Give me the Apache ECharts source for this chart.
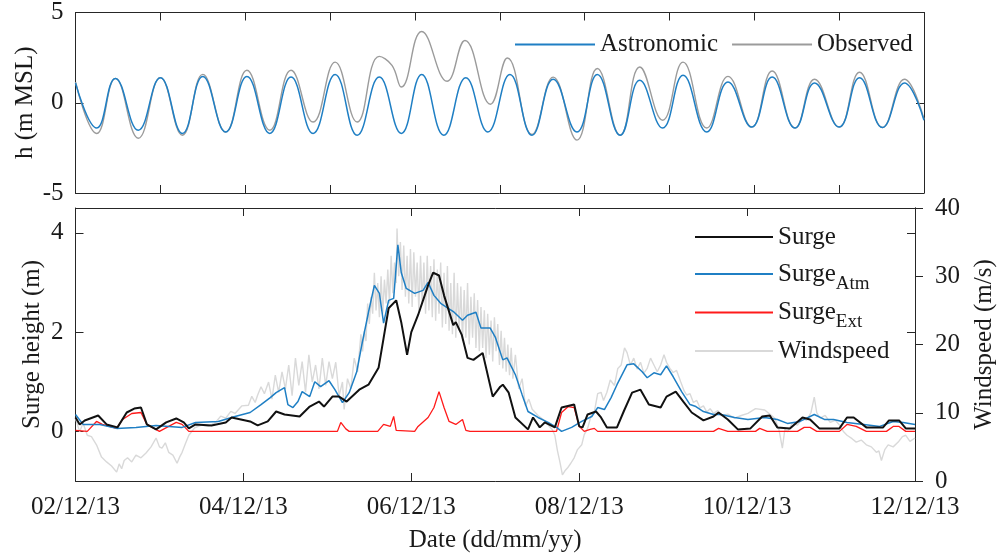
<!DOCTYPE html>
<html><head><meta charset="utf-8">
<script src="https://cdn.jsdelivr.net/npm/echarts@6/dist/echarts.min.js"></script>
<style>html,body{margin:0;padding:0;background:#fff}#c{width:1005px;height:555px}</style>
</head><body><div id="c"></div>
<script>
// ---- data (time in days since 02/12/13 00:00) ----
const dateLabels = ['02/12/13','04/12/13','06/12/13','08/12/13','10/12/13','12/12/13'];

const astroT = [0,0.25,0.47,0.74,1.00,1.26,1.50,1.77,2.02,2.29,2.54,2.80,3.06,3.32,3.58,3.84,4.08,4.34,4.60,4.86,5.12,5.38,5.63,5.91,6.15,6.42,6.65,6.92,7.16,7.44,7.69,7.97,8.21,8.48,8.71,9.00,9.24,9.51,9.77,10.0];
const astroH = [1.1,-1.4,1.35,-1.52,1.39,-1.7,1.46,-1.62,1.46,-1.7,1.42,-1.7,1.57,-1.8,1.42,-1.7,1.57,-1.8,1.39,-1.62,1.57,-1.8,1.3,-1.62,1.57,-1.8,1.24,-1.4,1.52,-1.62,1.15,-1.35,1.42,-1.4,1.1,-1.35,1.39,-1.37,1.1,-0.97];

const obsT = [0,0.25,0.47,0.74,1.00,1.26,1.50,1.77,2.02,2.29,2.54,2.80,3.06,3.32,3.58,3.73,3.84,4.08,4.38,4.59,4.89,5.09,5.38,5.63,5.91,6.15,6.42,6.65,6.92,7.16,7.44,7.69,7.97,8.21,8.48,8.71,9.00,9.24,9.51,9.77,10.0];
const obsH = [1.15,-1.7,1.35,-1.97,1.39,-1.8,1.57,-1.62,1.8,-1.52,1.8,-1.07,2.25,-1.07,2.57,2.07,0.87,3.95,1.19,3.45,-0.08,2.48,-1.75,1.42,-2.07,1.9,-1.8,1.98,-0.97,2.25,-1.4,1.46,-1.35,1.76,-1.4,1.3,-1.35,1.69,-1.37,1.3,-0.9];

const surge = [[0,0.28],[0.05,0.14],[0.11,0.22],[0.27,0.32],[0.37,0.14],[0.50,0.08],[0.61,0.38],[0.70,0.46],[0.78,0.48],[0.85,0.14],[0.96,0.04],[1.08,0.18],[1.20,0.26],[1.29,0.18],[1.35,0.06],[1.43,0.14],[1.62,0.12],[1.79,0.18],[1.86,0.28],[1.97,0.24],[2.08,0.2],[2.17,0.12],[2.29,0.2],[2.39,0.4],[2.49,0.34],[2.67,0.3],[2.79,0.5],[2.90,0.6],[2.96,0.5],[3.06,0.7],[3.14,0.7],[3.23,0.6],[3.38,0.84],[3.49,0.94],[3.61,1.28],[3.67,1.88],[3.73,2.48],[3.82,2.64],[3.88,2.2],[3.95,1.54],[4.00,2.0],[4.08,2.34],[4.20,2.94],[4.26,3.2],[4.33,3.14],[4.39,2.74],[4.50,2.14],[4.53,2.2],[4.60,1.95],[4.67,1.48],[4.74,1.44],[4.85,1.58],[4.97,0.70],[5.06,0.9],[5.09,0.94],[5.16,0.78],[5.24,0.28],[5.39,0.04],[5.45,0.28],[5.53,0.08],[5.59,0.18],[5.71,0.08],[5.79,0.48],[5.94,0.54],[6.00,0.1],[6.04,0.08],[6.10,0.34],[6.20,0.4],[6.26,0.28],[6.33,0.08],[6.45,0.08],[6.53,0.4],[6.63,0.78],[6.73,0.84],[6.83,0.54],[6.97,0.48],[7.04,0.7],[7.15,0.8],[7.24,0.6],[7.34,0.38],[7.48,0.22],[7.60,0.3],[7.66,0.38],[7.77,0.24],[7.89,0.04],[8.04,0.06],[8.18,0.3],[8.27,0.32],[8.36,0.08],[8.51,0.06],[8.66,0.28],[8.75,0.24],[8.86,0.06],[9.10,0.06],[9.19,0.28],[9.27,0.28],[9.42,0.08],[9.62,0.08],[9.69,0.22],[9.81,0.22],[9.89,0.06],[10.0,0.06]];

const surgeAtm = [[0,0.34],[0.09,0.14],[0.29,0.14],[0.49,0.06],[0.72,0.08],[0.96,0.12],[1.27,0.08],[1.43,0.18],[1.70,0.2],[1.90,0.3],[2.08,0.38],[2.21,0.54],[2.32,0.68],[2.39,0.78],[2.49,0.88],[2.53,0.54],[2.59,0.48],[2.65,0.6],[2.70,0.8],[2.79,0.7],[2.85,1.0],[2.92,0.9],[3.02,1.02],[3.09,0.84],[3.18,0.58],[3.26,0.78],[3.35,1.2],[3.41,1.74],[3.49,2.4],[3.56,2.94],[3.62,2.78],[3.67,2.18],[3.73,2.64],[3.79,2.68],[3.84,3.76],[3.88,3.2],[3.94,2.88],[4.04,2.78],[4.14,2.84],[4.20,3.0],[4.27,2.74],[4.35,2.58],[4.44,2.48],[4.51,2.4],[4.61,2.24],[4.67,2.34],[4.77,2.4],[4.83,2.08],[4.94,2.08],[5.00,1.9],[5.09,1.44],[5.14,1.48],[5.24,1.14],[5.32,0.74],[5.39,0.4],[5.51,0.28],[5.63,0.18],[5.73,0.08],[5.79,0.0],[5.91,0.08],[6.03,0.2],[6.15,0.3],[6.22,0.48],[6.30,0.44],[6.38,0.68],[6.45,0.94],[6.57,1.34],[6.65,1.36],[6.75,1.2],[6.81,1.08],[6.89,1.18],[6.97,1.14],[7.04,1.32],[7.12,1.1],[7.22,0.8],[7.32,0.54],[7.39,0.5],[7.48,0.4],[7.60,0.34],[7.69,0.34],[7.85,0.28],[8.01,0.24],[8.21,0.28],[8.36,0.24],[8.48,0.16],[8.63,0.2],[8.80,0.34],[8.92,0.24],[9.03,0.24],[9.19,0.18],[9.39,0.14],[9.58,0.1],[9.74,0.2],[9.86,0.18],[10.0,0.14]];

const surgeExt = [[0,0.02],[0.14,0],[0.25,0.2],[0.32,0.14],[0.49,0.06],[0.56,0.24],[0.67,0.36],[0.78,0.38],[0.85,0.14],[1.00,0],[1.11,0.1],[1.20,0.18],[1.27,0.14],[1.35,0],[1.86,0],[1.88,0.03],[1.91,0],[2.78,0],[2.80,0.04],[2.82,0],[3.12,0],[3.16,0.18],[3.22,0.05],[3.26,0],[3.60,0],[3.67,0.14],[3.75,0.1],[3.79,0.3],[3.82,0.02],[4.04,0],[4.08,0.1],[4.20,0.28],[4.27,0.48],[4.33,0.8],[4.39,0.48],[4.45,0.2],[4.53,0.14],[4.61,0.24],[4.65,0.02],[4.70,0],[5.73,0],[5.79,0.38],[5.87,0.5],[5.94,0.48],[6.00,0.1],[6.06,0],[6.13,0.04],[6.18,0.06],[6.22,0],[7.60,0],[7.66,0.06],[7.77,0],[8.10,0],[8.15,0.06],[8.24,0],[8.60,0],[8.68,0.08],[8.75,0.08],[8.83,0],[9.10,0],[9.19,0.14],[9.30,0.1],[9.42,0],[9.66,0],[9.74,0.1],[9.81,0.1],[9.89,0],[10.0,0]];

const windspeed = [[0,9.2],[0.03,8],[0.05,7.2],[0.09,8.5],[0.14,6.7],[0.19,6.5],[0.25,5.3],[0.31,3.5],[0.37,2.8],[0.43,2.2],[0.49,1.3],[0.52,2.5],[0.55,1.8],[0.58,3.0],[0.62,3.4],[0.67,2.8],[0.72,3.8],[0.78,3.4],[0.84,4.1],[0.90,5.0],[0.96,6.3],[1.00,5.0],[1.03,4.8],[1.07,5.6],[1.11,4.2],[1.16,3.8],[1.21,2.6],[1.24,3.5],[1.27,4.2],[1.31,5.5],[1.35,6.7],[1.42,7.8],[1.50,8.2],[1.58,8.0],[1.67,8.6],[1.73,9.5],[1.79,9.2],[1.85,10.2],[1.90,9.9],[1.98,11],[2.06,11.1],[2.10,12.4],[2.14,11.5],[2.17,12.6],[2.21,13.8],[2.25,12.8],
[2.30,14.5],[2.34,12],[2.38,15.5],[2.42,13],[2.46,16],[2.50,13.5],[2.54,17],[2.58,12.5],[2.62,18],[2.66,14],[2.70,17.5],[2.74,13],[2.78,18.5],[2.82,14.5],[2.86,17],[2.90,13.5],[2.94,18],[2.98,14],[3.02,17.5],[3.06,15],[3.10,17.4],[3.14,12.5],[3.18,14.5],[3.20,10.5],[3.24,15],[3.28,13.5],[3.32,18],[3.36,16],
[3.40,21.5],[3.42,19],[3.44,22],[3.46,20.5],[3.48,26],[3.50,23],[3.52,27],[3.54,24.5],[3.56,30.5],[3.58,25],[3.60,29],[3.62,24],[3.64,30],[3.66,24.5],[3.68,29.5],[3.70,26],[3.72,31],[3.74,26],[3.76,33],[3.78,27.5],[3.80,32],[3.82,29],[3.83,37],[3.85,30],[3.87,35],[3.89,28],[3.91,34.5],[3.93,27],[3.95,33],[3.97,26],[3.99,34],[4.01,25.5],[4.03,33.5],[4.05,27],[4.07,32],[4.09,25],[4.11,33],[4.13,26],[4.15,32],[4.17,24.5],[4.19,33],[4.21,25],[4.23,31.5],[4.25,24],[4.27,32.5],[4.29,23.5],[4.31,31],[4.33,24.5],[4.35,32],[4.37,22.5],[4.39,30.5],[4.41,23],[4.43,31.5],[4.45,22],[4.47,29],[4.49,21.5],[4.51,30.5],[4.53,21],[4.55,29],[4.57,22],[4.59,28.5],[4.61,20.5],[4.63,28],[4.65,21],[4.67,29],[4.69,20],[4.71,27],[4.73,21],[4.75,27.5],[4.77,19.5],[4.79,26.5],[4.81,19],[4.83,25.5],[4.85,19.5],[4.87,25],[4.89,18],[4.91,24.5],[4.93,18.5],[4.95,23.5],[4.97,17.5],[4.99,24],[5.01,19],[5.03,23],[5.05,17],[5.07,22],[5.09,16.5],[5.11,21],[5.13,16],[5.15,20],[5.17,15.5],[5.19,19.5],[5.21,15],[5.24,18.5],[5.28,13.5],[5.32,15],[5.36,11],[5.40,12],
[5.44,10.5],[5.51,9.6],[5.57,9],[5.63,8.2],[5.68,7.5],[5.71,6.7],[5.74,4.5],[5.77,2.8],[5.80,0.9],[5.83,1.5],[5.86,1.9],[5.90,2.6],[5.94,3.4],[5.98,4.6],[6.03,5.3],[6.06,6.8],[6.10,7.7],[6.14,9.5],[6.18,10.1],[6.22,12.8],[6.26,13],[6.29,11.8],[6.33,13],[6.37,14.8],[6.42,14],[6.46,16.5],[6.50,17],[6.54,19.5],[6.57,18.8],[6.61,17],[6.65,18],[6.69,16.4],[6.73,17.4],[6.77,15.8],[6.81,16.5],[6.85,18],[6.89,17],[6.93,16],[6.97,17],[7.01,18.5],[7.04,17.4],[7.08,16.5],[7.12,15.9],[7.16,16.2],[7.21,14.5],[7.25,13.2],[7.28,12.6],[7.32,12.8],[7.36,11.5],[7.40,11.8],[7.44,10.7],[7.48,11],[7.52,10.1],[7.56,10.6],[7.60,9.9],[7.65,10.3],[7.69,9.6],[7.77,9.8],[7.85,9.2],[7.93,9.6],[8.01,9.9],[8.10,10.6],[8.21,10.4],[8.27,9.8],[8.33,9.2],[8.38,7.5],[8.42,4.8],[8.45,7.6],[8.48,7.2],[8.54,8.5],[8.60,8.2],[8.66,9.2],[8.71,8.9],[8.76,10],[8.80,12.3],[8.83,10],[8.87,9.2],[8.93,9.6],[8.99,8.6],[9.05,8.9],[9.10,8.2],[9.15,7.2],[9.19,6.7],[9.25,6.2],[9.30,5.7],[9.36,6],[9.42,5.3],[9.48,5.0],[9.54,4.2],[9.57,4.4],[9.60,3.0],[9.64,4.6],[9.68,5.3],[9.74,5.0],[9.80,5.7],[9.85,6.5],[9.89,6.7],[9.94,5.8],[10,6.3]];

const surgeTicks = [0, 2, 4];

// ---- chart ----
const FONT = 'Liberation Serif';
const AX = '#262626';
const TXT = '#1a1a1a';
const pairs = (t, v) => t.map((x, i) => [x, v[i]]);

function xAx(gridIndex, position, interval, labels) {
  return {
    type: 'value', gridIndex, position, min: 0, max: 10, interval,
    axisLine: { show: true, onZero: false, lineStyle: { color: AX, width: 1 } },
    axisTick: { show: true, inside: true, length: 8, lineStyle: { color: AX } },
    axisLabel: labels ? {
      show: true, margin: 14, fontFamily: FONT, fontSize: 25, color: TXT,
      formatter: v => (Math.round(v) % 2 === 0 ? dateLabels[Math.round(v) / 2] : '')
    } : { show: false },
    splitLine: { show: false }
  };
}
function yAx(gridIndex, position, min, max, opts) {
  return Object.assign({
    type: 'value', gridIndex, position, min, max,
    axisLine: { show: true, onZero: false, lineStyle: { color: AX, width: 1 } },
    axisTick: { show: true, inside: true, length: 8, lineStyle: { color: AX } },
    axisLabel: { show: false },
    splitLine: { show: false }
  }, opts);
}
const labelStyle = { show: true, fontFamily: FONT, fontSize: 25, color: TXT, margin: 12 };
const nameStyle = { fontFamily: FONT, fontSize: 25, color: TXT };

const option = {
  animation: false,
  backgroundColor: '#fff',
  grid: [
    { left: 75.5, right: 81, top: 12, height: 181 },
    { left: 75.5, right: 81, top: 208, height: 273 }
  ],
  xAxis: [
    xAx(0, 'bottom', 1, false),
    xAx(0, 'top', 1, false),
    Object.assign(xAx(1, 'bottom', 2, true), {
      name: 'Date (dd/mm/yy)', nameLocation: 'middle', nameGap: 47, nameMoveOverlap: false, nameTextStyle: nameStyle
    }),
    xAx(1, 'top', 2, false)
  ],
  yAxis: [
    yAx(0, 'left', -5, 5, { interval: 5, axisLabel: labelStyle,
      name: 'h (m MSL)', nameLocation: 'middle', nameGap: 38, nameMoveOverlap: false, nameTextStyle: nameStyle }),
    yAx(0, 'right', -5, 5, { interval: 5 }),
    yAx(1, 'left', -1, 4.5, {
      axisTick: { show: true, inside: true, length: 8, lineStyle: { color: AX }, customValues: surgeTicks },
      axisLabel: Object.assign({}, labelStyle, { customValues: surgeTicks }),
      name: 'Surge height (m)', nameLocation: 'middle', nameGap: 31, nameMoveOverlap: false, nameTextStyle: nameStyle }),
    yAx(1, 'right', -1, 4.5, {
      axisTick: { show: true, inside: true, length: 8, lineStyle: { color: AX }, customValues: surgeTicks } }),
    yAx(1, 'right', 0, 40, { interval: 10,
      axisTick: { show: true, inside: false, length: 8, lineStyle: { color: AX } },
      axisLabel: Object.assign({}, labelStyle, { margin: 20 }),
      name: 'Windspeed (m/s)', nameLocation: 'middle', nameGap: 57, nameRotate: 90, nameMoveOverlap: false, nameTextStyle: nameStyle })
  ],
  legend: [
    {
      left: 510, top: 27, orient: 'horizontal', icon: 'rect', itemWidth: 80, itemHeight: 2, itemGap: 14,
      data: ['Astronomic', 'Observed'],
      textStyle: { fontFamily: FONT, fontSize: 25, color: TXT }
    },
    {
      left: 690, top: 214, orient: 'vertical', icon: 'rect', itemWidth: 78, itemHeight: 2, itemGap: 1,
      data: ['Surge', 'SurgeAtm', 'SurgeExt', 'Windspeed'],
      formatter: n => n === 'SurgeAtm' ? '{m|Surge}{s|Atm}' : n === 'SurgeExt' ? '{m|Surge}{s|Ext}' : '{m|' + n + '}',
      textStyle: {
        fontFamily: FONT, fontSize: 25, color: TXT, lineHeight: 36,
        rich: {
          m: { fontFamily: FONT, fontSize: 25, color: TXT, lineHeight: 36, verticalAlign: 'middle' },
          s: { fontFamily: FONT, fontSize: 19, color: TXT, height: 16, lineHeight: 16, verticalAlign: 'bottom' }
        }
      }
    }
  ],
  series: [
    { name: 'Observed', type: 'line', xAxisIndex: 0, yAxisIndex: 0, data: pairs(obsT, obsH),
      smooth: 0.45, symbol: 'none', color: '#9b9b9b', lineStyle: { width: 1.4, color: '#9b9b9b' } },
    { name: 'Astronomic', type: 'line', xAxisIndex: 0, yAxisIndex: 0, data: pairs(astroT, astroH),
      smooth: 0.45, symbol: 'none', color: '#1f7fc4', lineStyle: { width: 1.5, color: '#1f7fc4' } },
    { name: 'Windspeed', type: 'line', xAxisIndex: 2, yAxisIndex: 4, data: windspeed,
      symbol: 'none', color: '#d9d9d9', lineStyle: { width: 1.4, color: '#d9d9d9' } },
    { name: 'SurgeExt', type: 'line', xAxisIndex: 2, yAxisIndex: 2, data: surgeExt,
      symbol: 'none', color: '#ff1a1a', lineStyle: { width: 1.3, color: '#ff1a1a' } },
    { name: 'SurgeAtm', type: 'line', xAxisIndex: 2, yAxisIndex: 2, data: surgeAtm,
      symbol: 'none', color: '#1f7fc4', lineStyle: { width: 1.5, color: '#1f7fc4' } },
    { name: 'Surge', type: 'line', xAxisIndex: 2, yAxisIndex: 2, data: surge,
      symbol: 'none', color: '#111111', lineStyle: { width: 2, color: '#111111' } }
  ]
};
echarts.init(document.getElementById('c'), null, { renderer: 'canvas' }).setOption(option);
</script>
</body></html>
